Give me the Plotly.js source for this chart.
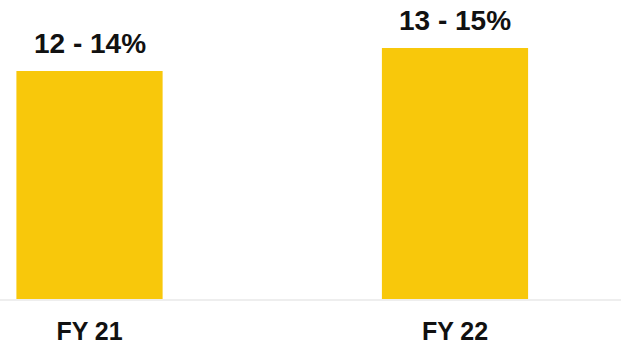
<!DOCTYPE html>
<html>
<head>
<meta charset="utf-8">
<script src="https://cdn.plot.ly/plotly-3.0.1.min.js"></script>
<style>html,body{margin:0;padding:0;background:#fff;}#chart{width:621px;height:347px;}</style>
</head>
<body>
<div id="chart"></div>
<script>
const categories = ["FY 21", "FY 22"];
const values = [13, 14];            // midpoint of the guided range, %
const rangeLabels = ["12 - 14%", "13 - 15%"];

const data = [{
  type: "bar",
  x: categories,
  y: values,
  width: 0.4,
  marker: {color: "#F8C80B", line: {width: 0}},
  hoverinfo: "skip"
}];

const annotations = categories.map((c, i) => ({
  x: c, y: values[i], xref: "x", yref: "y",
  text: "<b>" + rangeLabels[i] + "</b>",
  showarrow: false, yanchor: "bottom", yshift: 10,
  font: {family: "Liberation Sans, Arial, sans-serif", size: 28, color: "#111"}
}));

const layout = {
  width: 621, height: 347,
  margin: {l: 0, r: 0, t: 0, b: 48},
  paper_bgcolor: "#fff", plot_bgcolor: "#fff",
  showlegend: false,
  xaxis: {
    type: "category",
    range: [-0.2449, 1.4542],
    showgrid: false, zeroline: false,
    showline: true, linecolor: "#eeeeee", linewidth: 2,
    ticks: "", ticklabelstandoff: 9,
    tickfont: {family: "Liberation Sans, Arial, sans-serif", size: 25, color: "#111", weight: "bold"}
  },
  yaxis: {
    range: [3.087, 16.087],
    visible: false, showgrid: false, zeroline: false
  },
  annotations: annotations
};

Plotly.newPlot("chart", data, layout, {staticPlot: true, displayModeBar: false});
</script>
</body>
</html>
